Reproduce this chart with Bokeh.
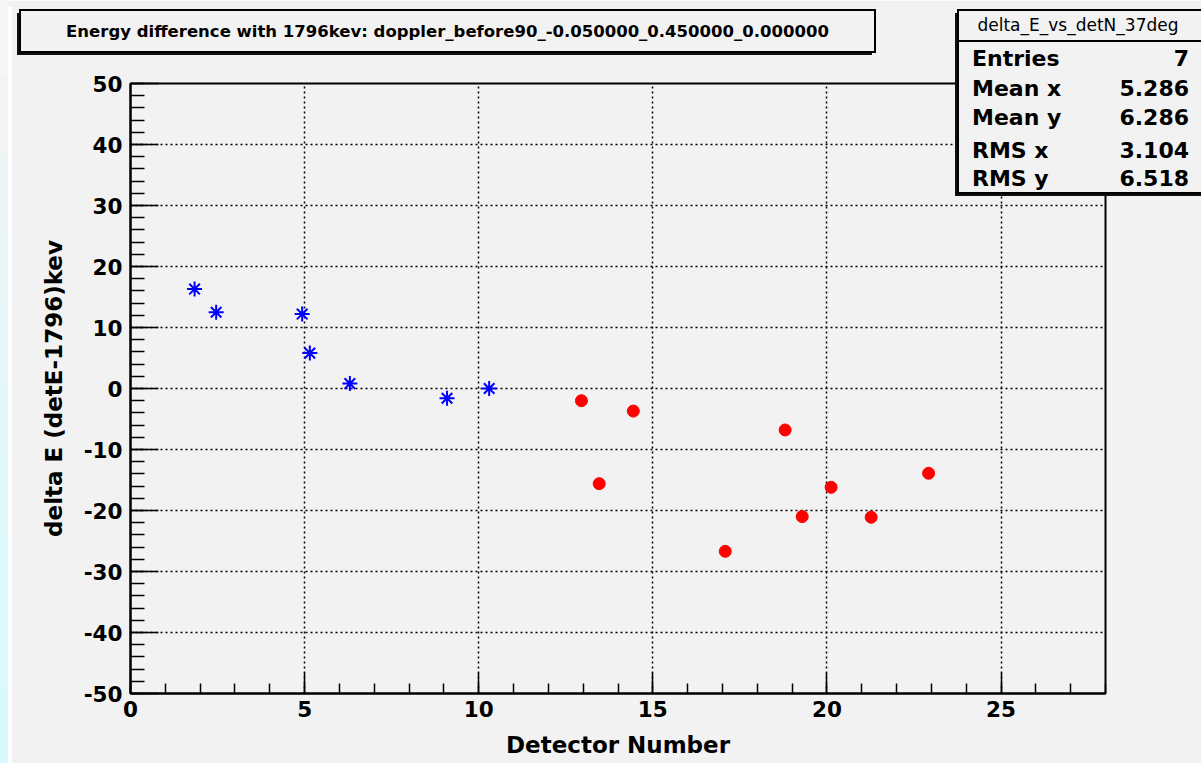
from bokeh.plotting import figure
from bokeh.models import SingleIntervalTicker, AllLabels, Range1d, GridBox, PrintfTickFormatter, Div
from bokeh.embed import file_html
from bokeh.resources import INLINE

# ---- data ----
blue_x = [1.84, 2.46, 4.93, 5.15, 6.30, 9.09, 10.30]
blue_y = [16.3, 12.5, 12.2, 5.8, 0.8, -1.6, 0.0]
red_x = [12.95, 13.46, 14.44, 17.08, 18.80, 19.29, 20.12, 21.27, 22.92]
red_y = [-2.0, -15.6, -3.7, -26.7, -6.8, -21.0, -16.2, -21.1, -13.9]

title_text = "Energy difference with 1796kev: doppler_before90_-0.050000_0.450000_0.000000"
stats_name = "delta_E_vs_detN_37deg"
stats_labels = ["Entries", "Mean x", "Mean y", "RMS x", "RMS y"]
stats_values = ["7", "5.286", "6.286", "3.104", "6.518"]
x_title = "Detector Number"
y_title = "delta E (detE-1796)kev"

W, H = 1201, 763
BG = "#f2f2f2"
FONT = "DejaVu Sans"

# ---------------- main plot ----------------
p = figure(width=W, height=H, output_backend="svg", toolbar_location=None,
           x_range=Range1d(0, 28), y_range=Range1d(-50, 50),
           min_border_left=130, min_border_right=96, min_border_top=83, min_border_bottom=70,
           background_fill_color=BG, border_fill_color=BG)
p.outline_line_color = "black"
p.outline_line_width = 2

xt = SingleIntervalTicker(interval=5, num_minor_ticks=5)
yt = SingleIntervalTicker(interval=10, num_minor_ticks=5)
p.xaxis.ticker = xt
p.yaxis.ticker = yt
p.xgrid.ticker = xt
p.ygrid.ticker = yt

for ax in (p.xaxis[0], p.yaxis[0]):
    ax.formatter = PrintfTickFormatter(format="%d")
    ax.axis_line_color = "black"
    ax.axis_line_width = 2
    ax.major_tick_out = 0
    ax.minor_tick_out = 0
    ax.major_tick_line_color = "black"
    ax.minor_tick_line_color = "black"
    ax.major_tick_line_width = 1.5
    ax.minor_tick_line_width = 1.5
    ax.major_label_text_font = FONT
    ax.major_label_text_font_style = "bold"
    ax.major_label_text_font_size = "21.5px"
    ax.major_label_text_color = "black"
    ax.axis_label_text_font = FONT
    ax.axis_label_text_font_style = "bold"
    ax.axis_label_text_font_size = "23px"
    ax.axis_label_text_color = "black"
    ax.major_label_policy = AllLabels()

p.xaxis.major_tick_in = 21
p.xaxis.minor_tick_in = 10
p.yaxis.major_tick_in = 28
p.yaxis.minor_tick_in = 14
p.xaxis.major_label_standoff = 7
p.yaxis.major_label_standoff = 8
p.xaxis.axis_label = x_title
p.yaxis.axis_label = y_title
p.xaxis.axis_label_standoff = 12
p.yaxis.axis_label_standoff = 14

for g in (p.xgrid[0], p.ygrid[0]):
    g.grid_line_color = "black"
    g.grid_line_width = 1.5
    g.grid_line_dash = "2 3"

p.scatter(blue_x, blue_y, marker="asterisk", size=15, line_color="blue", line_width=2)
p.scatter(red_x, red_y, marker="circle", size=12, fill_color="red", line_color="red")

# ---------------- overlay: the two paves and the canvas strip (page pixels) ----------------
def txt(x, y, s, size, bold, anchor):
    style = (f"font-family:'{FONT}';font-size:{size};font-weight:{'bold' if bold else 'normal'};"
             f"fill:#000000;text-anchor:{anchor};dominant-baseline:central")
    return f'<text x="{x}" y="{y}" style="{style}">{s}</text>'

parts = []
strip_cols = ["#f6f6f6", "#f3f5f5", "#eff5f6", "#ebf6f7", "#e6f7f8",
              "#e2f7f9", "#def8fa", "#dbf8fa", "#d9f9fb", "#d8f9fb"]
band = H / len(strip_cols)
for i, c in enumerate(strip_cols):
    parts.append(f'<rect x="0" y="{i*band:.1f}" width="8" height="{band+0.5:.1f}" fill="{c}"/>')
parts.append(f'<rect x="8" y="7" width="4" height="{H-7}" fill="#ffffff"/>')

# title pave
parts.append('<rect x="17" y="13" width="855" height="42" fill="#111111"/>')
parts.append(f'<rect x="20" y="10" width="855" height="42" fill="{BG}" stroke="black" stroke-width="2"/>')
parts.append(txt(447.5, 31.5, title_text, "16.5px", True, "middle"))

# stats pave
parts.append('<rect x="955" y="13" width="250" height="183" fill="#111111"/>')
parts.append(f'<rect x="958" y="10" width="250" height="183" fill="{BG}" stroke="black" stroke-width="2"/>')
parts.append('<line x1="958" y1="41" x2="1208" y2="41" stroke="black" stroke-width="2"/>')
parts.append(txt(1078, 25, stats_name, "17px", False, "middle"))
row_y = [58, 88, 117, 150, 178]
for ry, lab, val in zip(row_y, stats_labels, stats_values):
    parts.append(txt(972, ry, lab, "22px", True, "start"))
    parts.append(txt(1189, ry, val, "22px", True, "end"))

svg = (f'<svg xmlns="http://www.w3.org/2000/svg" width="{W}" height="{H}" '
       f'style="position:absolute;left:0;top:0;display:block">' + "".join(parts) + '</svg>')
ov = Div(text=svg, width=W, height=H,
         styles={"pointer-events": "none", "margin": "0", "padding": "0", "overflow": "hidden"})

layout = GridBox(children=[(p, 0, 0), (ov, 0, 0)])

open("out.html", "w").write(file_html(layout, INLINE))
